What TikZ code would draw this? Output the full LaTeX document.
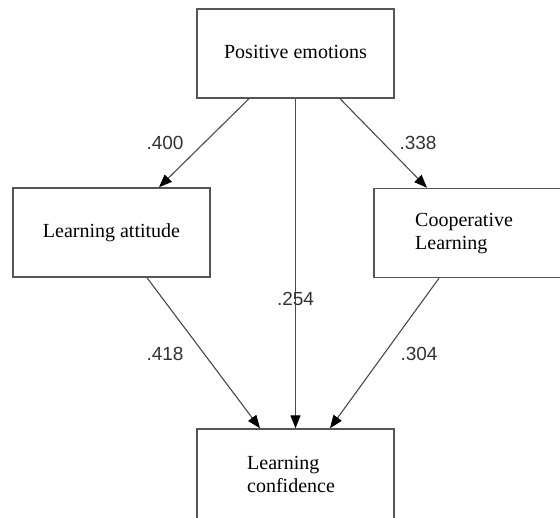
\documentclass[tikz,border=0pt]{standalone}
\usepackage{fontspec}
\setmainfont{Liberation Serif}
\newfontfamily\labelfont{Liberation Sans}
\usetikzlibrary{arrows.meta,calc}
\definecolor{boxgray}{HTML}{555555}
\definecolor{linegray}{HTML}{4A4A4A}
\definecolor{labelgray}{HTML}{333333}
\begin{document}
\begin{tikzpicture}[x=1pt,y=1pt,
  box/.style={draw=boxgray, line width=1.4pt, minimum width=197pt, minimum height=89pt,
    inner sep=0pt, font=\fontsize{20}{23}\selectfont, text height=13.7pt, text depth=4.3pt},
  txt/.style={inner sep=0pt, align=left, font=\fontsize{20}{23}\selectfont, anchor=west},
  coef/.style={inner sep=0pt, font=\labelfont\fontsize{19}{21}\selectfont, text=labelgray},
  conn/.style={draw=linegray, line width=1.1pt,
    -{Triangle[length=13pt,width=10pt,color=black]}}
]
\fill[white] (0,0) rectangle (560,518);
\useasboundingbox (0,0) rectangle (560,518);

% boxes
\node[box] (pos) at (295.5,464.5) {Positive emotions};
\node[box] (att) at (111.5,285.5) {Learning attitude};
\node[box] (coop) at (472.5,285) {};
\node[box, minimum height=110pt] (conf) at (295.5,34) {};

% texts of the boxes that are not centred
\node[txt] (cooptext) at (415,284) {Cooperative\\Learning};
\node[txt] (conftext) at (247,43.4) {Learning\\confidence};

% connectors
\draw[conn] ([xshift=-46.5pt]pos.south) -- ([xshift=47.5pt]att.north);
\draw[conn] ([xshift=44.5pt]pos.south) -- ([xshift=-45.5pt]coop.north);
\draw[conn] (pos.south) -- (conf.north);
\draw[conn] ([xshift=35.5pt]att.south) -- ([xshift=-35.5pt]conf.north);
\draw[conn] ([xshift=-33.5pt]coop.south) -- ([xshift=34.5pt]conf.north);

% coefficients
\node[coef] (c400) at (165,375) {.400};
\node[coef] (c338) at (418,375) {.338};
\node[coef] (c254) at (295.5,219) {.254};
\node[coef] (c418) at (165,164) {.418};
\node[coef] (c304) at (419,164) {.304};
\end{tikzpicture}
\end{document}
